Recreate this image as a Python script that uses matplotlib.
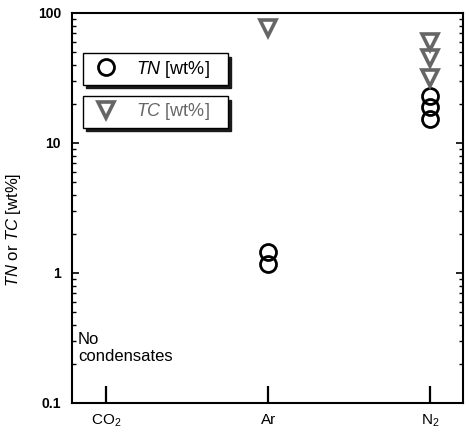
import matplotlib
matplotlib.use("Agg")
import matplotlib.pyplot as plt
from matplotlib.ticker import FixedLocator, LogLocator, NullFormatter

plt.rcParams.update({
    "font.family": "Liberation Sans",
    "mathtext.fontset": "custom",
    "mathtext.rm": "Liberation Sans",
    "mathtext.it": "Liberation Sans:italic",
    "mathtext.bf": "Liberation Sans:bold",
    "mathtext.default": "regular",
})

# categories on the x axis
gases = ["CO$_2$", "Ar", "N$_2$"]

# measured values (wt%), CO2 gave no condensates
tn_gas = [1, 1, 2, 2, 2]
tn_val = [1.46, 1.18, 23.0, 18.9, 15.3]
tc_gas = [1, 2, 2, 2]
tc_val = [76.0, 59.5, 45.0, 31.5]

ytick_vals = [0.1, 1, 10, 100]
ytick_labels = ["0.1", "1", "10", "100"]

fig = plt.figure(figsize=(4.69, 4.36), dpi=100)
ax = fig.add_axes([0.1535, 0.0757, 0.8335, 0.8945])

ln_tn, = ax.plot(tn_gas, tn_val, ls="none", marker="o", ms=11.5,
                 mfc="none", mec="black", mew=2.0, zorder=3,
                 label=r"$\it{TN}$ [wt%]")
ln_tc, = ax.plot(tc_gas, tc_val, ls="none", marker="v", ms=12,
                 mfc="none", mec="#666666", mew=2.6, zorder=4,
                 label=r"$\it{TC}$ [wt%]")

ax.set_yscale("log")
ax.set_ylim(0.1, 100)
ax.set_xlim(-0.21, 2.2)

ax.set_xticks(range(len(gases)))
ax.set_xticklabels(gases, fontsize=11)
ax.yaxis.set_major_locator(FixedLocator(ytick_vals))
ax.set_yticklabels(ytick_labels, fontsize=10, fontweight="bold")
ax.yaxis.set_minor_locator(LogLocator(base=10, subs=range(2, 10)))
ax.yaxis.set_minor_formatter(NullFormatter())

ax.tick_params(axis="y", which="major", direction="in", length=5, width=1.2,
               left=True, right=True, pad=8)
ax.tick_params(axis="y", which="minor", direction="in", length=3, width=1.0,
               left=True, right=True)
ax.tick_params(axis="x", which="major", direction="in", length=12, width=1.6,
               top=False, pad=7)
for s in ax.spines.values():
    s.set_linewidth(1.5)

ax.set_ylabel(r"$\it{TN}$ or $\it{TC}$ [wt%]", fontsize=12)
ax.yaxis.set_label_coords(-0.125, 0.444)

ax.text(0.015, 0.141, "No\ncondensates", transform=ax.transAxes,
        fontsize=12, ha="left", va="center", linespacing=1.2)

shadow = {"ox": 2.5, "oy": -2.5, "color": "0.1", "alpha": 1}
leg_kw = dict(loc="upper left", mode="expand", borderaxespad=0,
              fancybox=False, shadow=shadow, edgecolor="black",
              framealpha=1, fontsize=13, handlelength=2.0,
              handletextpad=0.65, borderpad=0.3)
leg1 = ax.legend(handles=[ln_tn], bbox_to_anchor=(0.028, 0.815, 0.371, 0.082),
                 **leg_kw)
leg1.get_frame().set_linewidth(1.0)
ax.add_artist(leg1)
leg2 = ax.legend(handles=[ln_tc], bbox_to_anchor=(0.028, 0.705, 0.371, 0.082),
                 **leg_kw)
leg2.get_frame().set_linewidth(1.0)
leg2.get_texts()[0].set_color("#666666")

fig.savefig("out.png", dpi=100, facecolor="white")
